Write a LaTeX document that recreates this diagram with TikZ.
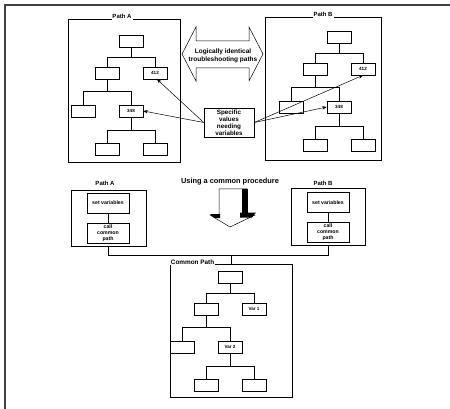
\documentclass[tikz,border=0pt]{standalone}
\usepackage{fontspec}
\setmainfont{Liberation Sans}
\usetikzlibrary{arrows.meta}

% One decision tree: root, two branches, second level, leaves.
% #1 = label of the upper right box, #2 = label of the middle box.
\newcommand\drawtree[2]{%
  \node[treebox] (r)  at (0,6)    {};
  \node[treebox] (b1) at (-24,38) {};
  \node[treebox] (b2) at (24,38)  {#1};
  \node[treebox] (c1) at (-48,76) {};
  \node[treebox] (c2) at (0,76)   {#2};
  \node[treebox] (d1) at (-24,114) {};
  \node[treebox] (d2) at (24,114)  {};
  \draw[link] (r.south) -- ++(0,10) -| (b1.north);
  \draw[link] (r.south) -- ++(0,10) -| (b2.north);
  \draw[link] (b1.south) -- ++(0,12) -| (c1.north);
  \draw[link] (b1.south) -- ++(0,12) -| (c2.north);
  \draw[link] (c2.south) -- ++(0,13) -| (d1.north);
  \draw[link] (c2.south) -- ++(0,13) -| (d2.north);
}

\begin{document}
\begin{tikzpicture}[x=1pt,y=-1pt,
  line width=0.6pt,
  txt/.style={font=\fontsize{6.5}{8.5}\selectfont\bfseries, align=center},
  plabel/.style={font=\fontsize{6}{7}\selectfont\bfseries, inner sep=1pt},
  small/.style={font=\fontsize{5.2}{6.2}\selectfont\bfseries, align=center},
  treebox/.style={draw, minimum width=24pt, minimum height=12pt, inner sep=0pt,
    font=\fontsize{4.6}{5}\selectfont\bfseries},
  panel/.style={draw, inner sep=0pt},
  stepbox/.style={draw, minimum width=42pt, minimum height=20pt, inner sep=0.5pt},
  link/.style={line width=0.5pt},
  pointer/.style={line width=0.5pt, -{Stealth[length=4.5pt,width=3.5pt]}},
]
\useasboundingbox (0,0) rectangle (450,409);

% page frame (top and left rules)
\draw[line width=1.3pt, black!75] (450,5) -- (5,5) -- (5,409);

% ---------- upper half: two separate paths ----------
\node[panel, minimum width=112pt, minimum height=143pt] (panelA) at (124,90.5) {};
\node[panel, minimum width=116pt, minimum height=143pt] (panelB) at (323,88.5) {};
\node[plabel, fill=white, anchor=base] (labA) at (122,19) {Path A};
\node[plabel, fill=white, anchor=base] (labB) at (323,17) {Path B};

\begin{scope}[shift={(131,35)}, name prefix=A-]
  \drawtree{412}{348}
\end{scope}
\begin{scope}[shift={(339,31)}, name prefix=B-]
  \drawtree{412}{348}
\end{scope}

% double-headed block arrow
\draw[link] (182,54) -- (196,27) -- (196,41) -- (249,41) -- (249,27) -- (263,54)
  -- (249,81) -- (249,68) -- (196,68) -- (196,81) -- cycle;
\node[txt] (ident) at (223,56) {Logically identical\\troubleshooting paths};

% call-out with pointers into both paths
\node[draw, font=\fontsize{6.3}{7}\selectfont\bfseries, align=center,
  minimum width=50pt, minimum height=29pt, inner sep=1pt] (spec) at (229,122.5)
  {Specific\\values\\needing\\variables};
\draw[pointer] (spec.west) -- ([xshift=2pt]A-b2.south);
\draw[pointer] (spec.west) -- (A-c2.east);
\draw[pointer] (spec.east) -- (B-b2.south);
\draw[pointer] (spec.east) -- (B-c2.west);

% ---------- lower half: shared procedure ----------
\node[font=\fontsize{7.4}{8}\selectfont\bfseries] (caption) at (230,182) {Using a common procedure};

% shaded down arrow
\draw[link] (219,189) -- (247,189) -- (247,215) -- (255,215) -- (230,227)
  -- (210,215) -- (219,215) -- cycle;
\fill (242,189) rectangle (247.5,215);
\fill (240,212.5) -- (256,212.5) -- (252,217.5) -- (240,217.5) -- cycle;
\fill (210,214) -- (220,214) -- (220,218) -- (214,218) -- cycle;

\node[plabel] (lowlabA) at (105,183) {Path A};
\node[plabel] (lowlabB) at (323,183) {Path B};
\node[panel, minimum width=75pt, minimum height=56pt] (lowA) at (108.5,218) {};
\node[panel, minimum width=74pt, minimum height=57pt] (lowB) at (328,216.5) {};

\node[stepbox, small] (setA)  at (108,203) {set variables};
\node[stepbox, small] (callA) at (108,233) {call\\common\\path};
\node[stepbox, small] (setB)  at (328,202.5) {set variables};
\node[stepbox, small] (callB) at (328,232) {call\\common\\path};
\draw[link] (setA) -- (callA);
\draw[link] (setB) -- (callB);

\node[panel, minimum width=122pt, minimum height=133pt] (common) at (231,330.5) {};
\node[font=\fontsize{6.4}{7}\selectfont\bfseries, fill=white, inner sep=0.6pt,
  anchor=base west] (comlab) at (170,264) {Common Path};

\coordinate (bus) at (231,255);
\draw[link] (lowA.south) |- (bus) -- (common.north);
\draw[link] (lowB.south) |- (bus);

\begin{scope}[shift={(230,271)}, name prefix=C-]
  \drawtree{Var 1}{Var 2}
\end{scope}

\end{tikzpicture}
\end{document}
